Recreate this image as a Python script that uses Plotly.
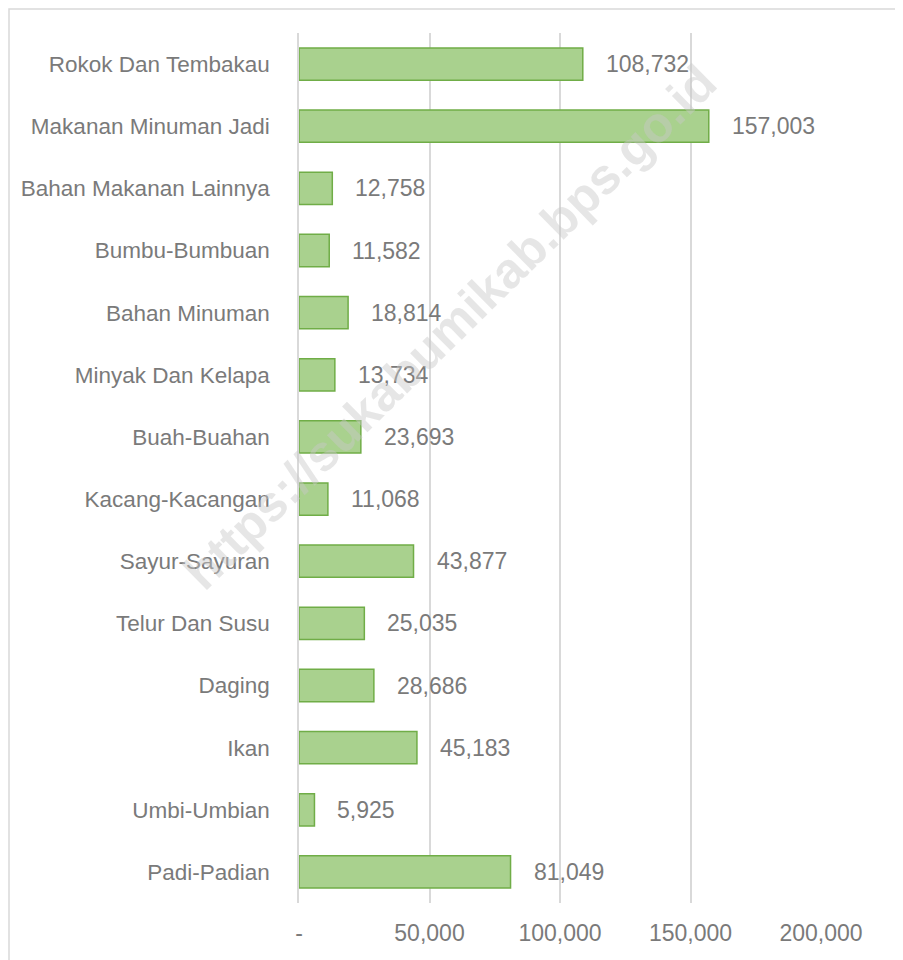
import plotly.graph_objects as go

# Data (top to bottom)
categories = [
    "Rokok Dan Tembakau", "Makanan Minuman Jadi", "Bahan Makanan Lainnya",
    "Bumbu-Bumbuan", "Bahan Minuman", "Minyak Dan Kelapa", "Buah-Buahan",
    "Kacang-Kacangan", "Sayur-Sayuran", "Telur Dan Susu", "Daging", "Ikan",
    "Umbi-Umbian", "Padi-Padian",
]
values = [108732, 157003, 12758, 11582, 18814, 13734, 23693,
          11068, 43877, 25035, 28686, 45183, 5925, 81049]
x_tickvals = [0, 50000, 100000, 150000, 200000]
x_ticktext = ["-", "50,000", "100,000", "150,000", "200,000"]

text_color = "#7a7a7a"
grid_color = "#d9d9d9"
font_family = "Liberation Sans, Arial, sans-serif"

# figure size / margins (page adds an 8px body margin)
W, H = 895, 952
L, R, T, B = 291, 82, 25, 57
PW, PH = W - L - R, H - T - B

fig = go.Figure()
fig.add_trace(go.Bar(
    y=categories, x=values, orientation="h",
    width=0.52,
    marker=dict(color="#a9d18e", line=dict(color="#70ad47", width=1.5)),
    hoverinfo="x+y",
))

# value labels to the right of each bar
for cat, val in zip(categories, values):
    fig.add_annotation(
        x=val, y=cat, xref="x", yref="y",
        text=f"{val:,}", showarrow=False,
        xanchor="left", xshift=21,
        font=dict(size=23, color=text_color, family=font_family),
    )

# watermark
fig.add_annotation(
    x=0.29, y=0.662, xref="paper", yref="paper",
    xanchor="center", yanchor="middle",
    text="<b>https://sukabumikab.bps.go.id</b>", showarrow=False,
    textangle=-44.5,
    font=dict(size=50, color="rgba(200,200,200,0.45)", family=font_family),
)

# chart border: left, top and right edges (bottom runs off the page)
fig.add_shape(
    type="rect", xref="paper", yref="paper",
    x0=(-L + 1) / PW, x1=(W - L - 1) / PW,
    y0=-(B + 10) / PH, y1=1 + (T - 1) / PH,
    line=dict(color=grid_color, width=1.5), layer="below",
)

fig.update_layout(
    width=W, height=H,
    margin=dict(l=L, r=R, t=T, b=B),
    paper_bgcolor="white", plot_bgcolor="white",
    showlegend=False,
    font=dict(family=font_family, color=text_color, size=22),
    xaxis=dict(
        range=[0, 200000], tickvals=x_tickvals, ticktext=x_ticktext,
        showgrid=True, gridcolor=grid_color, gridwidth=1.5,
        zeroline=False, showline=False, ticks="",
        ticklabelstandoff=14,
        tickfont=dict(size=23, color=text_color),
    ),
    yaxis=dict(
        categoryorder="array", categoryarray=categories[::-1],
        showgrid=False, zeroline=False, ticks="",
        showline=True, linecolor=grid_color, linewidth=1.5,
        ticklabelstandoff=23,
        tickfont=dict(size=22.5, color=text_color),
    ),
)

fig.write_html("out.html")
